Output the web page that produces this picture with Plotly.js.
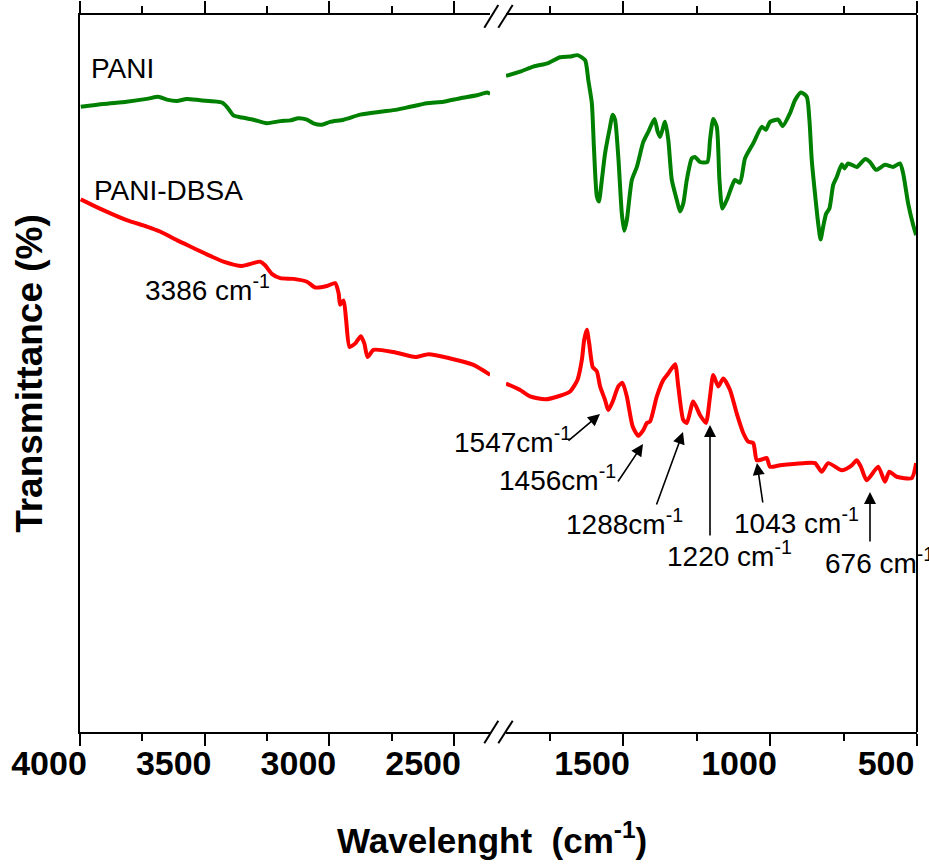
<!DOCTYPE html>
<html>
<head>
<meta charset="utf-8">
<script src="https://cdn.plot.ly/plotly-3.0.1.min.js"></script>
<style>html,body{margin:0;padding:0;background:#fff;}#chart{width:929px;height:865px;}</style>
</head>
<body>
<div id="chart"></div>
<script>
// PANI – left segment (4000–2355 cm-1)
const paniLeftX = [3997,3906,3813,3732,3686,3652,3612,3572,3518,3431,3411,3385,3351,3305,3251,3197,3157,3124,3090,3064,3030,2997,2943,2876,2796,2729,2676,2609,2542,2475,2408,2368,2355];
const paniLeftY = [87.2,87.6,87.9,88.3,88.6,88.2,88.0,88.3,88.1,87.8,87.2,86.0,85.7,85.4,84.9,85.2,85.3,85.6,85.4,84.9,84.7,85.1,85.4,86.1,86.5,86.8,87.2,87.7,87.9,88.4,88.8,89.2,89.0];
// PANI – right segment (1898–500 cm-1)
const paniRightX = [1898,1850,1805,1754,1714,1680,1655,1629,1618,1606,1599,1589,1582,1572,1561,1546,1535,1527,1516,1504,1496,1487,1470,1453,1431,1414,1393,1382,1374,1357,1346,1334,1317,1306,1295,1283,1266,1255,1238,1213,1204,1193,1181,1172,1162,1145,1130,1119,1102,1085,1057,1028,1014,1000,972,957,932,915,895,875,866,858,847,836,828,819,809,798,785,773,756,747,734,705,677,660,639,609,581,558,547,530,513,503];
const paniRightY = [91.5,92.1,92.8,93.3,94.1,94.2,94.4,93.7,90.9,87.7,81.6,74.7,74.0,77.0,80.7,84.0,86.1,85.4,80.2,72.3,69.9,71.4,77.0,78.8,82.3,83.7,85.5,83.7,83.0,85.1,82.6,77.0,74.2,72.6,73.7,77.0,80.0,80.2,79.5,79.5,82.6,85.5,84.4,77.0,73.0,74.4,76.1,77.0,76.6,80.0,82.1,84.4,84.0,85.1,85.4,84.5,86.3,88.1,89.2,88.6,85.4,79.8,75.1,70.9,68.7,70.5,72.3,73.0,76.3,77.4,79.2,78.6,79.3,78.8,79.9,79.5,78.4,79.1,78.8,79.3,77.9,73.7,70.7,69.3];
// PANI-DBSA – left segment
const dbsaLeftX = [3997,3920,3813,3732,3679,3612,3545,3478,3425,3351,3305,3278,3258,3231,3197,3144,3090,3057,3010,2977,2963,2957,2943,2933,2919,2896,2874,2860,2847,2823,2743,2656,2602,2515,2422,2355];
const dbsaLeftY = [74.3,73.0,71.4,70.5,69.8,68.6,67.5,66.4,65.6,65.0,65.4,65.6,65.1,63.9,63.3,63.2,62.8,62.0,62.2,62.6,61.2,59.6,60.2,57.5,53.7,54.2,55.2,54.2,52.3,53.3,53.0,52.3,52.7,52.1,51.2,49.8];
// PANI-DBSA – right segment
const dbsaRightX = [1898,1850,1816,1765,1714,1680,1655,1640,1632,1623,1615,1603,1589,1578,1561,1550,1535,1516,1502,1487,1467,1448,1431,1419,1408,1385,1363,1346,1323,1312,1295,1283,1261,1238,1218,1204,1193,1176,1159,1136,1113,1091,1074,1057,1045,1028,1011,1000,966,887,847,824,802,756,722,705,691,671,632,609,594,569,518,503];
const dbsaRightY = [48.6,47.7,46.8,46.4,46.9,47.5,49.1,51.9,54.7,56.1,54.2,50.9,50.3,48.2,46.3,44.9,46.1,48.2,48.7,46.8,42.6,41.3,42.1,43.1,43.3,46.8,49.1,50.0,51.3,48.2,43.5,43.1,46.1,44.2,43.1,46.8,49.8,48.2,49.3,47.7,44.4,41.7,40.5,40.3,37.9,38.0,38.2,37.0,37.2,37.5,37.5,36.3,37.5,36.5,37.2,37.9,37.0,35.1,37.0,34.9,36.3,35.6,35.4,37.5];

const seriesNames = ['PANI', 'PANI-DBSA'];
const peakLabels = ['3386 cm<sup>-1</sup>','1547cm<sup>-1</sup>','1456cm<sup>-1</sup>','1288cm<sup>-1</sup>','1220 cm<sup>-1</sup>','1043 cm<sup>-1</sup>','676 cm<sup>-1</sup>'];
const leftTicks = [4000, 3500, 3000, 2500];
const rightTicks = [1500, 1000, 500];

const GREEN = 'rgb(0,128,0)', RED = 'rgb(255,0,0)';
const FONT = 'Liberation Sans, Arial, Helvetica, sans-serif';

const lineStyle = c => ({color: c, width: 4, shape: 'spline', smoothing: 0.6});
const traces = [
  {x: paniLeftX, y: paniLeftY, xaxis: 'x', yaxis: 'y', name: seriesNames[0], mode: 'lines', line: lineStyle(GREEN)},
  {x: paniRightX, y: paniRightY, xaxis: 'x2', yaxis: 'y', name: seriesNames[0], mode: 'lines', line: lineStyle(GREEN)},
  {x: dbsaLeftX, y: dbsaLeftY, xaxis: 'x', yaxis: 'y', name: seriesNames[1], mode: 'lines', line: lineStyle(RED)},
  {x: dbsaRightX, y: dbsaRightY, xaxis: 'x2', yaxis: 'y', name: seriesNames[1], mode: 'lines', line: lineStyle(RED)}
];

const axisCommon = {
  showline: true, linewidth: 2, linecolor: '#000', mirror: 'ticks',
  ticks: 'outside', ticklen: 12, tickwidth: 2, tickcolor: '#000',
  minor: {ticks: 'outside', ticklen: 7, tickwidth: 2, tickcolor: '#000', dtick: 250},
  showgrid: false, zeroline: false,
  tickfont: {family: FONT, size: 34, color: '#000', weight: 'bold'},
  ticklabelshift: 31,
  ticklabelstandoff: -12,
  anchor: 'y'
};

function P(px) { return (px - 80) / 837; }
function Q(py) { return (732 - py) / 717; }

const textAnn = (t, px, py) => ({text: t, xref: 'paper', yref: 'paper', x: P(px), y: Q(py), xanchor: 'left', yanchor: 'middle', showarrow: false, font: {family: FONT, size: 28, color: '#000'}});
const arrowAnn = (hx, hy, tx, ty) => ({text: '', xref: 'paper', yref: 'paper', x: P(hx), y: Q(hy), ax: tx - hx, ay: ty - hy, axref: 'pixel', ayref: 'pixel', showarrow: true, arrowhead: 2, arrowsize: 1.5, arrowwidth: 1.6, arrowcolor: '#000'});

const annotations = [
  textAnn(seriesNames[0], 89, 68.5),
  textAnn(seriesNames[1], 92, 191),
  textAnn(peakLabels[0], 143, 288),
  textAnn(peakLabels[1], 452, 440),
  textAnn(peakLabels[2], 497, 478),
  textAnn(peakLabels[3], 564, 522),
  textAnn(peakLabels[4], 665, 554),
  textAnn(peakLabels[5], 732, 521),
  textAnn(peakLabels[6], 823, 561),
  arrowAnn(600, 414, 567, 442),
  arrowAnn(643, 444, 617, 483),
  arrowAnn(683, 432, 656, 506),
  arrowAnn(710, 425, 710, 537),
  arrowAnn(757, 463, 763, 504),
  arrowAnn(870, 492, 870, 543)
];

const slash = (x0, y0, x1, y1) => ({type: 'line', xref: 'paper', yref: 'paper', x0: P(x0), y0: Q(y0), x1: P(x1), y1: Q(y1), line: {color: '#000', width: 2}});
const shapes = [
  {type: 'line', xref: 'paper', yref: 'paper', x0: 1, x1: 1, y0: 0, y1: 1, line: {color: '#000', width: 2}},
  slash(484.3, 743.3, 498.3, 720.7), slash(498.3, 743.3, 512.7, 720.7),
  slash(484.3, 27.7, 498.3, 5), slash(498.3, 27.7, 512.7, 5)
];

const layout = {
  width: 929, height: 865,
  margin: {l: 80, r: 12, t: 15, b: 133},
  paper_bgcolor: '#fff', plot_bgcolor: '#fff',
  showlegend: false,
  xaxis: Object.assign({}, axisCommon, {domain: [0, 410/837], range: [4000, 2356], tickvals: leftTicks}),
  xaxis2: Object.assign({}, axisCommon, {domain: [426/837, 1], range: [1898, 500], tickvals: rightTicks}),
  yaxis: {
    range: [0, 100], showline: true, linewidth: 2, linecolor: '#000',
    ticks: '', showticklabels: false, showgrid: false, zeroline: false,
    title: {text: 'Transmittance (%)\u00a0\u00a0\u00a0', font: {family: FONT, size: 37, color: '#000', weight: 'bold'}, standoff: 24}
  },
  annotations: annotations,
  shapes: shapes
};
// x axis title centred under the broken axis
layout.annotations.push({text: '<b>Wavelenght\u00a0\u00a0(cm<sup>-1</sup>)</b>', xref: 'paper', yref: 'paper', x: P(492), y: Q(838), xanchor: 'center', yanchor: 'middle', showarrow: false, font: {family: FONT, size: 35, color: '#000'}});

Plotly.newPlot('chart', traces, layout, {displayModeBar: false, staticPlot: true});
</script>
</body>
</html>
